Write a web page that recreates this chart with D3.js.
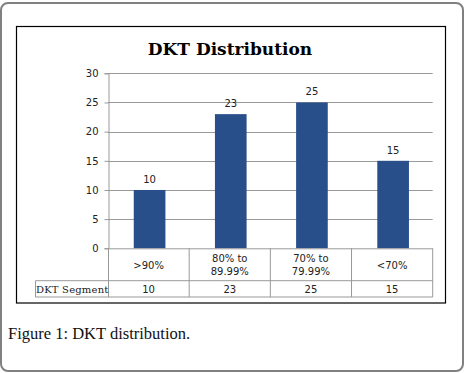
<!DOCTYPE html>
<html>
<head>
<meta charset="utf-8">
<script src="https://cdn.jsdelivr.net/npm/d3@7"></script>
<style>
  body { margin: 0; background: #fff; }
</style>
</head>
<body>
<div id="chart"></div>
<script>
let categories = ['>90%', '80% to\n89.99%', '70% to\n79.99%', '<70%']
let values = [10, 23, 25, 15]
let yTicks = [0, 5, 10, 15, 20, 25, 30]
let seriesName = 'DKT Segment'
let title = 'DKT Distribution'
let caption = 'Figure 1: DKT distribution.'

let width = 465, height = 373
let margin = {top: 73.3, left: 108, right: 432.7, bottom: 248.3}

let svg = d3.select('#chart').append('svg').attr('width', width).attr('height', height)

// outer rounded frame
svg.append('rect').attr('x', 1).attr('y', 3).attr('width', 462).attr('height', 368)
    .attr('rx', 7).attr('fill', 'none').attr('stroke', '#808080').attr('stroke-width', 2)

// chart box
svg.append('rect').attr('x', 16.5).attr('y', 26.5).attr('width', 429).attr('height', 276.5)
    .attr('fill', 'none').attr('stroke', '#000').attr('stroke-width', 1.2)

svg.append('text').attr('x', 230).attr('y', 55).attr('text-anchor', 'middle')
    .style('font-family', '"DejaVu Serif", serif').style('font-weight', 'bold').style('font-size', '17px')
    .text(title)

let x = d3.scaleBand().domain(categories).range([margin.left, margin.right])
let y = d3.scaleLinear().domain([0, 30]).range([margin.bottom, margin.top])

// gridlines
svg.append('g').selectAll('line').data(yTicks.filter(t => t > 0)).enter().append('line')
    .attr('x1', margin.left).attr('x2', margin.right)
    .attr('y1', d => Math.round(y(d)) + 0.5).attr('y2', d => Math.round(y(d)) + 0.5)
    .attr('stroke', '#999').attr('stroke-width', 1)

// y axis
let yAxis = d3.axisLeft(y).tickValues(yTicks).tickSize(4).tickPadding(6)
let yg = svg.append('g').attr('transform', 'translate(' + (margin.left + 0.5) + ',0)').call(yAxis)
yg.select('.domain').attr('stroke', '#999')
yg.selectAll('.tick line').attr('stroke', '#999')
yg.selectAll('.tick text').style('font-family', '"DejaVu Sans", sans-serif').style('font-size', '10px').attr('fill', '#222')

// bars
let barW = x.bandwidth() * 0.39
svg.append('g').selectAll('rect').data(values).enter().append('rect')
    .attr('x', (d, i) => x(categories[i]) + x.bandwidth() / 2 - barW / 2 + 1)
    .attr('y', d => y(d))
    .attr('width', barW)
    .attr('height', d => y(0) - y(d))
    .attr('fill', '#284f8a')

svg.append('g').selectAll('text').data(values).enter().append('text')
    .attr('x', (d, i) => x(categories[i]) + x.bandwidth() / 2 + 1)
    .attr('y', d => y(d) - 7)
    .attr('text-anchor', 'middle')
    .style('font-family', '"DejaVu Sans", sans-serif').style('font-size', '10px').attr('fill', '#222')
    .text(d => d)

// data table
let row1 = margin.bottom, row2 = 280.7, row3 = 297
let tableLeft = 35.5
let tg = svg.append('g').attr('stroke', '#999').attr('stroke-width', 1)
tg.append('line').attr('x1', margin.left).attr('x2', margin.right).attr('y1', row1 + 0.5).attr('y2', row1 + 0.5)
tg.append('line').attr('x1', tableLeft).attr('x2', margin.right).attr('y1', row2).attr('y2', row2)
tg.append('line').attr('x1', tableLeft).attr('x2', margin.right).attr('y1', row3).attr('y2', row3)
tg.append('line').attr('x1', tableLeft).attr('x2', tableLeft).attr('y1', row2).attr('y2', row3)
tg.selectAll('.sep').data(categories).enter().append('line')
    .attr('x1', d => x(d) + x.bandwidth()).attr('x2', d => x(d) + x.bandwidth())
    .attr('y1', row1).attr('y2', row3)
tg.append('line').attr('x1', margin.left + 0.5).attr('x2', margin.left + 0.5).attr('y1', row1).attr('y2', row3)

categories.forEach(c => {
    let lines = c.split('\n')
    let t = svg.append('text').attr('text-anchor', 'middle')
        .style('font-family', '"DejaVu Sans", sans-serif').style('font-size', '10px').attr('fill', '#222')
    lines.forEach((l, i) => {
        t.append('tspan').attr('x', x(c) + x.bandwidth() / 2)
            .attr('y', (row1 + row2) / 2 + 4 + (i - (lines.length - 1) / 2) * 13.5)
            .text(l)
    })
    svg.append('text').attr('x', x(c) + x.bandwidth() / 2).attr('y', (row2 + row3) / 2 + 4)
        .attr('text-anchor', 'middle')
        .style('font-family', '"DejaVu Sans", sans-serif').style('font-size', '10px').attr('fill', '#222')
        .text(values[categories.indexOf(c)])
})
svg.append('text').attr('x', (tableLeft + margin.left) / 2 + 0.5).attr('y', (row2 + row3) / 2 + 4)
    .attr('text-anchor', 'middle')
    .style('font-family', '"DejaVu Serif", serif').style('font-size', '10px').style('letter-spacing', '0.2px').attr('fill', '#222')
    .text(seriesName)

svg.append('text').attr('x', 8).attr('y', 339)
    .style('font-family', '"Liberation Serif", serif').style('font-size', '16.5px').attr('fill', '#111')
    .text(caption)
</script>
</body>
</html>
